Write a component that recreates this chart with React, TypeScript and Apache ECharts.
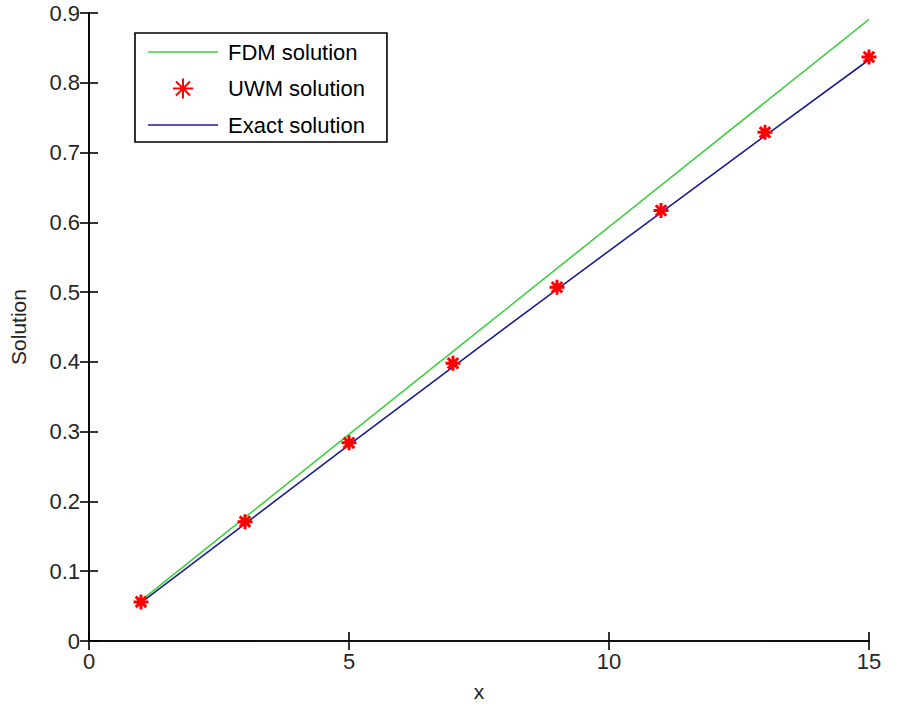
import React, { useEffect, useRef } from "react";
import * as echarts from "echarts";

const xValues = [1, 3, 5, 7, 9, 11, 13, 15];
const fdmValues = [0.058, 0.177, 0.296, 0.415, 0.534, 0.653, 0.772, 0.891];
const uwmValues = [0.056, 0.171, 0.284, 0.398, 0.507, 0.617, 0.729, 0.837];
const exactValues = [0.055, 0.168, 0.281, 0.393, 0.504, 0.614, 0.724, 0.833];

const seriesNames = ["FDM solution", "UWM solution", "Exact solution"];
const xTicks = { min: 0, max: 15, interval: 5 };
const yTicks = { min: 0, max: 0.9, interval: 0.1 };

const FONT = "'Liberation Sans', Arial, sans-serif";
const ASTERISK = "path://M10,0 L10,20 M0,10 L20,10 M3,3 L17,17 M3,17 L17,3";
const LINE_ICON = "path://M0,0 L70,0 L70,1.6 L0,1.6 Z";

const GREEN = "#40d040";
const BLUE = "#1c1c96";
const RED = "#ff0000";

const pairs = (ys: number[]) => xValues.map((x, i) => [x, ys[i]]);

export default function App() {
  const ref = useRef<HTMLDivElement>(null);
  useEffect(() => {
    if (!ref.current) return;
    const chart = echarts.init(ref.current, undefined, { renderer: "svg" });
    const axisLine = { show: true, lineStyle: { color: "#000", width: 1.6 } };
    const tick = { show: true, inside: true, length: 9, lineStyle: { color: "#000", width: 1.6 } };
    const labelStyle = { color: "#262626", fontSize: 22, fontFamily: FONT };
    chart.setOption({
      animation: false,
      backgroundColor: "#fff",
      grid: { left: 86, right: 39, top: 13, bottom: 76, containLabel: false },
      legend: {
        orient: "vertical",
        left: 135,
        top: 33,
        backgroundColor: "#fff",
        borderColor: "#000",
        borderWidth: 1.6,
        borderRadius: 0,
        padding: [8, 22, 6, 13],
        itemWidth: 70,
        itemHeight: 20,
        itemGap: 14.5,
        symbolKeepAspect: true,
        data: [
          { name: seriesNames[0], icon: LINE_ICON, itemStyle: { color: GREEN, borderWidth: 0 } },
          { name: seriesNames[1] },
          { name: seriesNames[2], icon: LINE_ICON, itemStyle: { color: BLUE, borderWidth: 0 } },
        ],
        textStyle: { color: "#000", fontSize: 22, fontFamily: FONT, lineHeight: 20, padding: [0, 0, 0, 5] },
      },
      xAxis: [
        {
          type: "value",
          position: "bottom",
          min: xTicks.min,
          max: xTicks.max,
          interval: xTicks.interval,
          name: "x",
          nameLocation: "middle",
          nameGap: 40,
          nameTextStyle: { color: "#262626", fontSize: 21, fontFamily: FONT },
          axisLine,
          axisTick: tick,
          axisLabel: { ...labelStyle, margin: 9 },
          splitLine: { show: false },
        },
        {
          type: "value",
          position: "top",
          min: xTicks.min,
          max: xTicks.max,
          interval: xTicks.interval,
          axisLine,
          axisTick: tick,
          axisLabel: { show: false },
          splitLine: { show: false },
        },
      ],
      yAxis: [
        {
          type: "value",
          position: "left",
          min: yTicks.min,
          max: yTicks.max,
          interval: yTicks.interval,
          name: "Solution",
          nameLocation: "middle",
          nameGap: 60,
          nameTextStyle: { color: "#262626", fontSize: 21, fontFamily: FONT },
          axisLine,
          axisTick: tick,
          axisLabel: { ...labelStyle, margin: 9, formatter: (v: number) => (Math.round(v * 10) / 10).toString() },
          splitLine: { show: false },
        },
        {
          type: "value",
          position: "right",
          min: yTicks.min,
          max: yTicks.max,
          interval: yTicks.interval,
          axisLine,
          axisTick: tick,
          axisLabel: { show: false },
          splitLine: { show: false },
        },
      ],
      series: [
        {
          name: seriesNames[0],
          type: "line",
          data: pairs(fdmValues),
          showSymbol: false,
          symbol: "none",
          lineStyle: { color: GREEN, width: 1.6 },
          itemStyle: { color: GREEN },
          z: 2,
        },
        {
          name: seriesNames[1],
          type: "scatter",
          data: pairs(uwmValues),
          symbol: ASTERISK,
          symbolSize: 15,
          itemStyle: { color: RED, borderColor: RED, borderWidth: 3, opacity: 1 },
          z: 4,
        },
        {
          name: seriesNames[2],
          type: "line",
          data: pairs(exactValues),
          showSymbol: false,
          symbol: "none",
          lineStyle: { color: BLUE, width: 1.6 },
          itemStyle: { color: BLUE },
          z: 3,
        },
      ],
    });
    return () => chart.dispose();
  }, []);
  return <div ref={ref} style={{ width: 908, height: 717, position: "absolute", left: 0, top: 0 }} />;
}
